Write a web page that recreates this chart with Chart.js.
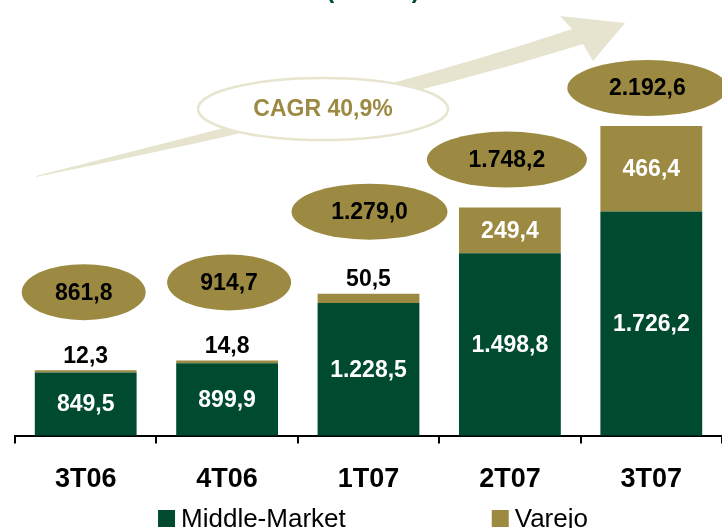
<!DOCTYPE html>
<html>
<head>
<meta charset="utf-8">
<script src="https://cdn.jsdelivr.net/npm/chart.js@4.4.0/dist/chart.umd.min.js"></script>
<style>
  body { margin: 0; background: #fff; }
  #wrap { width: 722px; height: 528px; position: relative; }
</style>
</head>
<body>
<div id="wrap"><canvas id="myChart"></canvas></div>
<script>
const quarters = ['3T06', '4T06', '1T07', '2T07', '3T07'];
const middleMarket = [849.5, 899.9, 1228.5, 1498.8, 1726.2];
const varejo = [12.3, 14.8, 50.5, 249.4, 466.4];
const seriesNames = ['Middle-Market', 'Varejo'];
const cagrLabel = 'CAGR 40,9%';
const unitLabel = '(R$ MM)';

// where the total bubbles sit, relative to the top of each bar (px)
const bubbleLift = [78, 78, 82, 48, 38];
const bubbleShift = [-2, 2, 1, -3, -4];
const bubbleRx = [62, 62, 78, 80, 80];

const GREEN = '#004b30';
const GOLD = '#9c8a42';
const BEIGE = '#e6e4ce';
const FONT = '"Liberation Sans", Arial, sans-serif';

function fmt(v) {
    const parts = v.toFixed(1).split('.');
    return parts[0].replace(/\B(?=(\d{3})+(?!\d))/g, '.') + ',' + parts[1];
}

const totals = middleMarket.map((v, i) => v + varejo[i]);

// background arrow + CAGR ellipse + the cut off unit title
const decoPlugin = {
    id: 'deco',
    beforeDatasetsDraw(chart) {
        const ctx = chart.ctx;
        ctx.save();
        ctx.fillStyle = BEIGE;
        ctx.beginPath();
        ctx.moveTo(36, 176);
        ctx.bezierCurveTo(200, 134, 420, 80, 572, 29);
        ctx.lineTo(560, 16);
        ctx.lineTo(625, 23);
        ctx.lineTo(593, 61);
        ctx.lineTo(583, 44);
        ctx.bezierCurveTo(430, 92, 200, 144, 36, 177);
        ctx.closePath();
        ctx.fill();

        ctx.beginPath();
        ctx.ellipse(323, 109, 125, 31, 0, 0, Math.PI * 2);
        ctx.fillStyle = '#fff';
        ctx.fill();
        ctx.lineWidth = 2.5;
        ctx.strokeStyle = '#e8e5cf';
        ctx.stroke();

        ctx.fillStyle = GOLD;
        ctx.font = 'bold 23px ' + FONT;
        ctx.textAlign = 'center';
        ctx.textBaseline = 'middle';
        ctx.fillText(cagrLabel, 323, 110);

        ctx.fillStyle = GREEN;
        ctx.font = 'bold 24px ' + FONT;
        ctx.textBaseline = 'alphabetic';
        ctx.fillText(unitLabel, 373, -2);
        ctx.restore();
    }
};

const labelPlugin = {
    id: 'barLabels',
    afterDatasetsDraw(chart) {
        const ctx = chart.ctx;
        const area = chart.chartArea;
        const green = chart.getDatasetMeta(0).data;
        const gold = chart.getDatasetMeta(1).data;
        ctx.save();
        ctx.textAlign = 'center';
        ctx.textBaseline = 'middle';
        ctx.font = 'bold 23px ' + FONT;

        green.forEach((bar, i) => {
            const bottom = Math.min(bar.base, area.bottom);
            ctx.fillStyle = '#fff';
            ctx.fillText(fmt(middleMarket[i]), bar.x, (bar.y + bottom) / 2 + 1);
        });

        gold.forEach((bar, i) => {
            const h = bar.base - bar.y;
            if (h > 30) {
                ctx.fillStyle = '#fff';
                ctx.fillText(fmt(varejo[i]), bar.x, (bar.y + bar.base) / 2 + 1);
            } else {
                ctx.fillStyle = '#000';
                ctx.fillText(fmt(varejo[i]), bar.x, bar.y - 14);
            }

            // total bubble
            const cx = bar.x + bubbleShift[i];
            const cy = bar.y - bubbleLift[i];
            ctx.beginPath();
            ctx.ellipse(cx, cy, bubbleRx[i], 28, 0, 0, Math.PI * 2);
            ctx.fillStyle = GOLD;
            ctx.fill();
            ctx.fillStyle = '#000';
            ctx.fillText(fmt(totals[i]), cx, cy + 1);
        });
        ctx.restore();
    },
    afterDraw(chart) {
        // legend, drawn by hand so the two items can sit far apart
        const ctx = chart.ctx;
        const colors = [GREEN, GOLD];
        ctx.save();
        ctx.font = '26px ' + FONT;
        ctx.textBaseline = 'alphabetic';
        ctx.textAlign = 'left';
        const gap = 146;
        const widths = seriesNames.map(n => 17 + 6 + ctx.measureText(n).width);
        const total = widths[0] + gap + widths[1];
        let x = 373 - total / 2;
        seriesNames.forEach((n, i) => {
            ctx.fillStyle = colors[i];
            ctx.fillRect(x, 510, 17, 17);
            ctx.fillStyle = '#000';
            ctx.fillText(n, x + 23, 527);
            x += widths[i] + gap;
        });
        ctx.restore();
    }
};

const data = {
    labels: quarters,
    datasets: [
        {
            label: seriesNames[0],
            data: middleMarket,
            backgroundColor: GREEN,
            categoryPercentage: 1,
            barPercentage: 0.72
        },
        {
            label: seriesNames[1],
            data: varejo,
            backgroundColor: GOLD,
            categoryPercentage: 1,
            barPercentage: 0.72
        }
    ]
};

const config = {
    type: 'bar',
    data: data,
    options: {
        responsive: true,
        maintainAspectRatio: false,
        animation: false,
        layout: {
            padding: { left: 15, right: -3, top: 0, bottom: 12 }
        },
        plugins: {
            legend: { display: false },
            tooltip: { enabled: false }
        },
        scales: {
            x: {
                stacked: true,
                grid: {
                    offset: true,
                    drawOnChartArea: false,
                    drawTicks: true,
                    tickLength: 8,
                    color: '#000',
                    lineWidth: 2
                },
                border: { display: true, color: '#000', width: 2 },
                ticks: {
                    color: '#000',
                    padding: 20,
                    font: { family: FONT, size: 27, weight: 'bold' }
                }
            },
            y: {
                stacked: true,
                display: false,
                min: 505,
                max: 2880
            }
        }
    },
    plugins: [decoPlugin, labelPlugin]
};

var myChart = new Chart(document.getElementById('myChart'), config);
</script>
</body>
</html>
